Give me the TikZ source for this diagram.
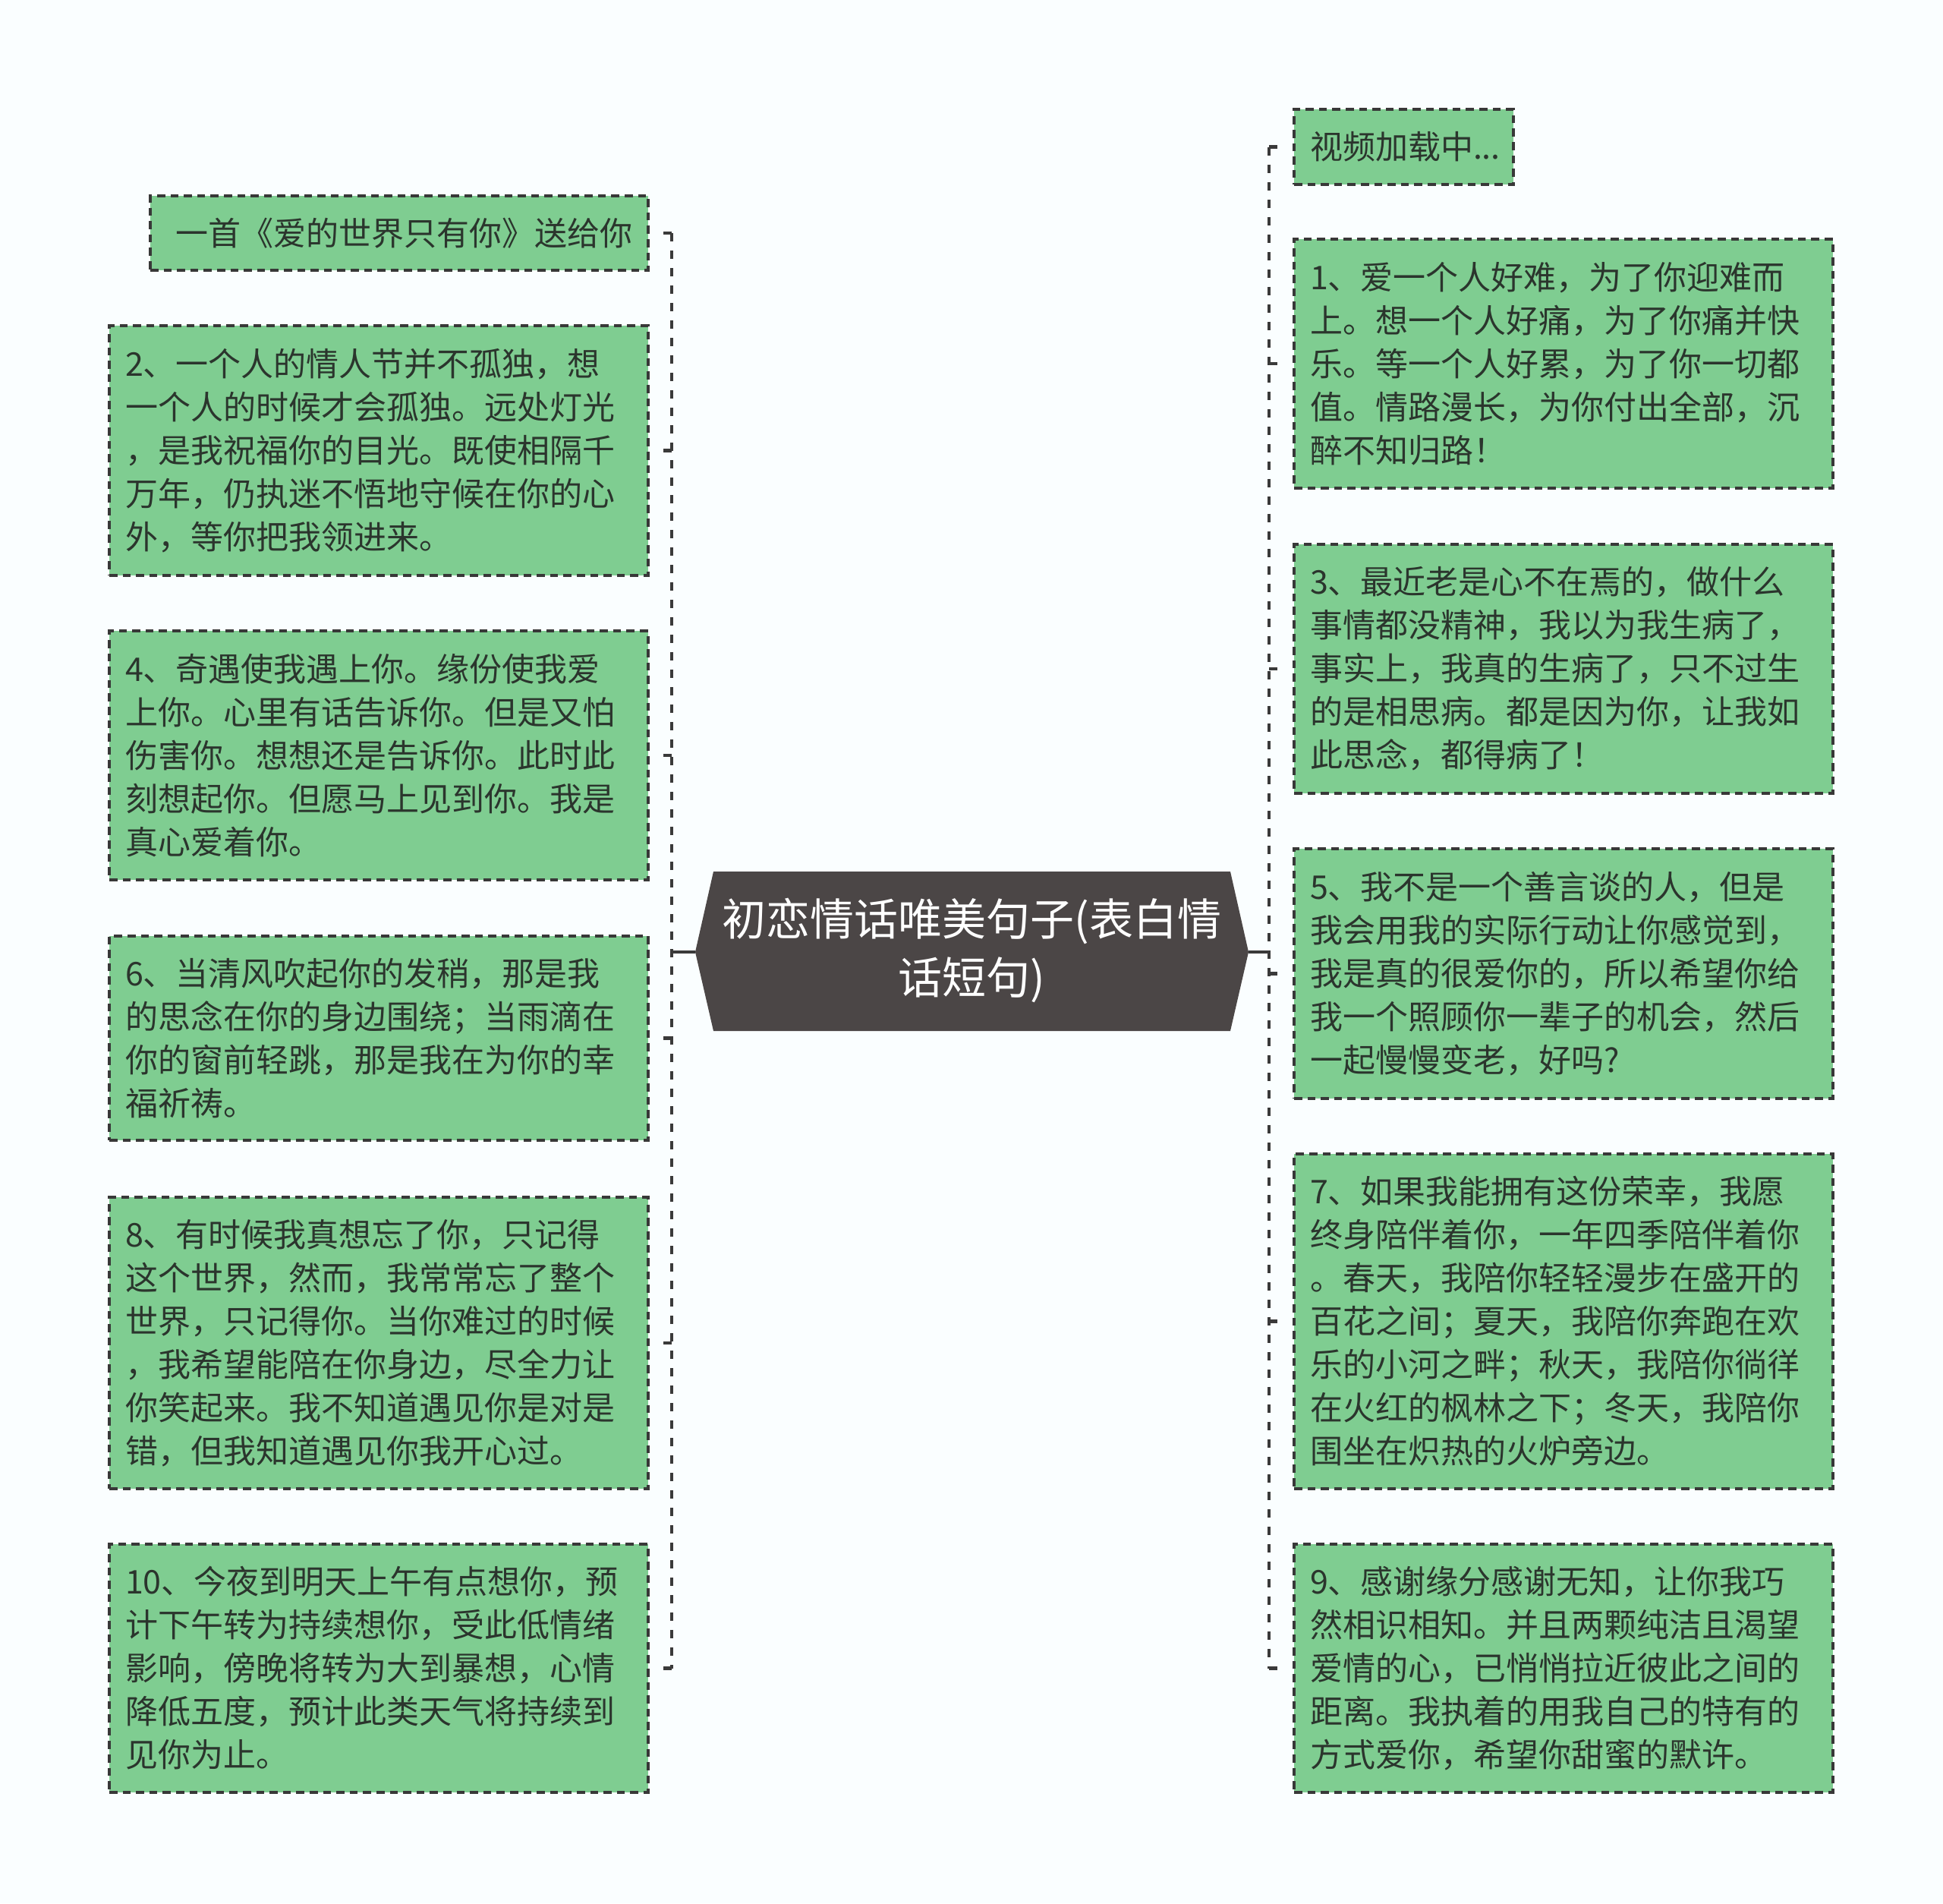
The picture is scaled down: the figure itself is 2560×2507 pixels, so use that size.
\documentclass[tikz,border=0pt]{standalone}
\usepackage{fontspec}
\setmainfont{Noto Sans CJK SC}
\definecolor{boxgreen}{HTML}{7FCD91}
\definecolor{bordc}{HTML}{383838}
\definecolor{txtc}{HTML}{2B352D}
\definecolor{connc}{HTML}{3A3A3A}
\definecolor{hexc}{HTML}{4B4646}
\definecolor{bgc}{HTML}{FAFEFF}
\begin{document}
\begin{tikzpicture}[x=0.5pt,y=-0.5pt,
  leaf/.style={draw=bordc, line width=1.6pt, dash pattern=on 5.3pt off 3.5pt,
    fill=boxgreen, text=txtc, font=\fontsize{21.5}{28.5}\selectfont,
    inner xsep=10.5pt, inner ysep=0pt, align=left, text width=334pt},
  conn/.style={draw=connc, line width=2.4pt, dash pattern=on 5.5pt off 6pt},
  solidconn/.style={draw=connc, line width=2.4pt},
  title/.style={text=white, font=\fontsize{29}{38.5}\selectfont, align=center}]
\useasboundingbox[fill=bgc] (0,0) rectangle (2560,2507);

% central topic
\coordinate (cl) at (916,1254);
\coordinate (cr) at (1645,1254);
\fill[hexc] (cl) -- (940,1148) -- (1621,1148) -- (cr) -- (1621,1358) -- (940,1358) -- cycle;
\node[title] (c) at (1280.5,1252) {初恋情话唯美句子(表白情\\话短句)};

% left branch
\node[leaf, text width=307pt, align=right, minimum height=49pt] (b0) at (526,307) {一首《爱的世界只有你》送给你};
\node[leaf, minimum height=164.5pt] (b2) at (499,593.5) {2、一个人的情人节并不孤独，想\\一个人的时候才会孤独。远处灯光\\，是我祝福你的目光。既使相隔千\\万年，仍执迷不悟地守候在你的心\\外，等你把我领进来。};
\node[leaf, minimum height=164pt] (b4) at (499,995) {4、奇遇使我遇上你。缘份使我爱\\上你。心里有话告诉你。但是又怕\\伤害你。想想还是告诉你。此时此\\刻想起你。但愿马上见到你。我是\\真心爱着你。};
\node[leaf, minimum height=134.5pt] (b6) at (499,1367.5) {6、当清风吹起你的发稍，那是我\\的思念在你的身边围绕；当雨滴在\\你的窗前轻跳，那是我在为你的幸\\福祈祷。};
\node[leaf, minimum height=192pt] (b8) at (499,1769) {8、有时候我真想忘了你，只记得\\这个世界，然而，我常常忘了整个\\世界，只记得你。当你难过的时候\\，我希望能陪在你身边，尽全力让\\你笑起来。我不知道遇见你是对是\\错，但我知道遇见你我开心过。};
\node[leaf, minimum height=163.5pt] (b10) at (499,2197.5) {10、今夜到明天上午有点想你，预\\计下午转为持续想你，受此低情绪\\影响，傍晚将转为大到暴想，心情\\降低五度，预计此类天气将持续到\\见你为止。};

% right branch
\node[leaf, text width=123.5pt, minimum height=49.5pt] (vid) at (1849.5,193.5) {视频加载中...};
\node[leaf, minimum height=164pt] (b1) at (2060,479) {1、爱一个人好难，为了你迎难而\\上。想一个人好痛，为了你痛并快\\乐。等一个人好累，为了你一切都\\值。情路漫长，为你付出全部，沉\\醉不知归路！};
\node[leaf, minimum height=164pt] (b3) at (2060,881) {3、最近老是心不在焉的，做什么\\事情都没精神，我以为我生病了，\\事实上，我真的生病了，只不过生\\的是相思病。都是因为你，让我如\\此思念，都得病了！};
\node[leaf, minimum height=164.5pt] (b5) at (2060,1282.5) {5、我不是一个善言谈的人，但是\\我会用我的实际行动让你感觉到，\\我是真的很爱你的，所以希望你给\\我一个照顾你一辈子的机会，然后\\一起慢慢变老，好吗?};
\node[leaf, minimum height=220.5pt] (b7) at (2060,1740.5) {7、如果我能拥有这份荣幸，我愿\\终身陪伴着你，一年四季陪伴着你\\。春天，我陪你轻轻漫步在盛开的\\百花之间；夏天，我陪你奔跑在欢\\乐的小河之畔；秋天，我陪你徜徉\\在火红的枫林之下；冬天，我陪你\\围坐在炽热的火炉旁边。};
\node[leaf, minimum height=163.5pt] (b9) at (2060,2197.5) {9、感谢缘分感谢无知，让你我巧\\然相识相知。并且两颗纯洁且渴望\\爱情的心，已悄悄拉近彼此之间的\\距离。我执着的用我自己的特有的\\方式爱你，希望你甜蜜的默许。};

% trunks
\coordinate (tl) at (885,1254);
\coordinate (tr) at (1672,1254);
\draw[solidconn] (cl) -- (tl);
\draw[solidconn] (cr) -- (tr);
\draw[conn] (tl |- b0.east) -- (tl |- b10.east);
\draw[conn] (tr |- vid.west) -- (tr |- b9.west);

\foreach \b in {b0,b2,b4,b6,b8,b10}
  \draw[conn] (tl |- \b.east) -- ([xshift=6pt]\b.east);
\foreach \b in {vid,b1,b3,b5,b7,b9}
  \draw[conn] (tr |- \b.west) -- ([xshift=-6pt]\b.west);
\end{tikzpicture}
\end{document}
